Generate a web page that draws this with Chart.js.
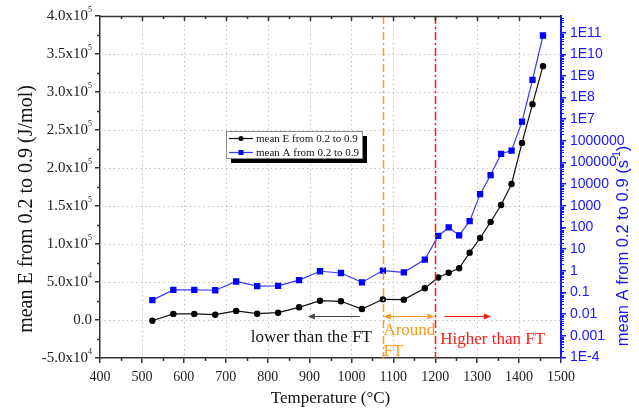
<!DOCTYPE html>
<html>
<head>
<meta charset="utf-8">
<script src="https://cdn.jsdelivr.net/npm/chart.js@4.4.0/dist/chart.umd.min.js"></script>
<style>
  html, body { margin: 0; padding: 0; background: #fff; }
  #wrap { width: 639px; height: 412px; }
</style>
</head>
<body>
<div id="wrap"><canvas id="c" width="639" height="412"></canvas></div>
<script>
// Temperatures (°C) of each measurement
const temperatures = [525, 575, 625, 675, 725, 775, 825, 875, 925, 975, 1025, 1075, 1125, 1175,
                      1207, 1232, 1257, 1282, 1307, 1332, 1357, 1382, 1407, 1432, 1457];
// Mean activation energy E (J/mol), conversion 0.2 - 0.9
const meanE = [-1000, 8000, 8000, 7000, 12000, 8300, 9600, 16700, 25400, 24600, 14500, 27200, 26800, 41700,
               56000, 62200, 68000, 88600, 107900, 129000, 151300, 179000, 233000, 284000, 334000];
// Mean pre-exponential factor A (1/s), conversion 0.2 - 0.9
const meanA = [0.044, 0.13, 0.13, 0.126, 0.32, 0.195, 0.2, 0.37, 0.95, 0.79, 0.29, 1.02, 0.85, 3.3,
               40.7, 100, 43.6, 195, 3470, 26300, 251000, 355000, 7.8e6, 6.6e8, 7.4e10];

const seriesLabels = ['mean E from 0.2 to 0.9', 'mean A from 0.2 to 0.9'];
const xTicks = [400, 500, 600, 700, 800, 900, 1000, 1100, 1200, 1300, 1400, 1500];
const eTicks = [-50000, 0, 50000, 100000, 150000, 200000, 250000, 300000, 350000, 400000];
const aTickExponents = [-4, -3, -2, -1, 0, 1, 2, 3, 4, 5, 6, 7, 8, 9, 10, 11];

// Formation-temperature (FT) region boundaries
const ftStart = 1075;
const ftEnd = 1200;

const SERIF = '"Liberation Serif", "Times New Roman", serif';
const SANS = '"Liberation Sans", Arial, sans-serif';
const BLUE = '#1515ff';
const ORANGE = '#ff9a1a';
const RED = '#ff1a1a';
const AXIS = '#333';

// Split a value into "m.mx10" and its exponent for scientific labels
function sciParts(v) {
  if (v === 0) return ['0.0', ''];
  const e = Math.floor(Math.log10(Math.abs(v)) + 1e-9);
  const m = v / Math.pow(10, e);
  return [m.toFixed(1) + 'x10', String(e)];
}
function logLabel(v) {
  const e = Math.round(Math.log10(v));
  if (e >= 0 && e <= 6) return String(Math.pow(10, e));
  if (e < 0 && e >= -3) return (Math.pow(10, e)).toFixed(-e);
  return '1E' + e;
}

function arrowHead(ctx, x, y, dir, color) {
  ctx.fillStyle = color;
  ctx.beginPath();
  ctx.moveTo(x, y);
  ctx.lineTo(x - dir * 7, y - 3);
  ctx.lineTo(x - dir * 7, y + 3);
  ctx.closePath();
  ctx.fill();
}

const decor = {
  id: 'decor',
  beforeDatasetsDraw(chart) {
    const { ctx, chartArea: a, scales: { x, y } } = chart;
    ctx.save();
    ctx.strokeStyle = '#c4c4c4';
    ctx.lineWidth = 1;
    ctx.setLineDash([1.5, 3]);
    xTicks.forEach(v => {
      if (v <= x.min || v >= x.max) return;
      const px = Math.round(x.getPixelForValue(v)) + 0.5;
      ctx.beginPath(); ctx.moveTo(px, a.top); ctx.lineTo(px, a.bottom); ctx.stroke();
    });
    eTicks.forEach(v => {
      if (v <= y.min || v >= y.max) return;
      const py = Math.round(y.getPixelForValue(v)) + 0.5;
      ctx.beginPath(); ctx.moveTo(a.left, py); ctx.lineTo(a.right, py); ctx.stroke();
    });
    ctx.restore();
  },
  afterDatasetsDraw(chart) {
    const { ctx, chartArea: a, scales: { x, y, y2 } } = chart;
    ctx.save();

    // FT boundary lines (dash-dot)
    ctx.lineWidth = 1.5;
    ctx.setLineDash([8, 3, 2, 3]);
    [[ftStart, ORANGE], [ftEnd, RED]].forEach(([t, col]) => {
      const px = Math.round(x.getPixelForValue(t)) + 0.5;
      ctx.strokeStyle = col;
      ctx.beginPath(); ctx.moveTo(px, a.top); ctx.lineTo(px, a.bottom); ctx.stroke();
    });
    ctx.setLineDash([]);

    // Region arrows
    const ay = Math.round(y.getPixelForValue(5200)) + 0.5;
    ctx.lineWidth = 1;
    let x0 = x.getPixelForValue(896), x1 = x.getPixelForValue(1020);
    ctx.strokeStyle = '#444';
    ctx.beginPath(); ctx.moveTo(x0 + 5, ay); ctx.lineTo(x1, ay); ctx.stroke();
    arrowHead(ctx, x0, ay, -1, '#444');
    x0 = x.getPixelForValue(ftStart) + 1; x1 = x.getPixelForValue(ftEnd) - 1;
    ctx.strokeStyle = ORANGE;
    ctx.beginPath(); ctx.moveTo(x0 + 5, ay); ctx.lineTo(x1 - 5, ay); ctx.stroke();
    arrowHead(ctx, x0, ay, -1, ORANGE);
    arrowHead(ctx, x1, ay, 1, ORANGE);
    x0 = x.getPixelForValue(1222); x1 = x.getPixelForValue(1333);
    ctx.strokeStyle = RED;
    ctx.beginPath(); ctx.moveTo(x0, ay); ctx.lineTo(x1 - 5, ay); ctx.stroke();
    arrowHead(ctx, x1, ay, 1, RED);

    // Region labels
    ctx.font = '17px ' + SERIF;
    ctx.textBaseline = 'middle';
    ctx.fillStyle = '#111';
    ctx.textAlign = 'right';
    ctx.fillText('lower than the FT', x.getPixelForValue(1049), y.getPixelForValue(-23700));
    ctx.textAlign = 'left';
    ctx.fillStyle = ORANGE;
    ctx.fillText('Around', x.getPixelForValue(ftStart) + 0.5, y.getPixelForValue(-14500));
    ctx.fillText('FT', x.getPixelForValue(ftStart) + 0.5, y.getPixelForValue(-41000));
    ctx.fillStyle = RED;
    ctx.fillText('Higher than FT', x.getPixelForValue(ftEnd) + 5, y.getPixelForValue(-26300));

    // Top frame with inward ticks, bottom minor ticks
    ctx.strokeStyle = AXIS;
    ctx.lineWidth = 1.5;
    ctx.beginPath(); ctx.moveTo(a.left, a.top + 0.5); ctx.lineTo(a.right, a.top + 0.5); ctx.stroke();
    for (let t = x.min; t <= x.max; t += 50) {
      const px = Math.round(x.getPixelForValue(t)) + 0.5;
      const major = t % 100 === 0;
      if (t === x.min || t === x.max) continue;
      ctx.beginPath(); ctx.moveTo(px, a.top); ctx.lineTo(px, a.top + (major ? 5 : 3)); ctx.stroke();
      if (!major) {
        ctx.beginPath(); ctx.moveTo(px, a.bottom); ctx.lineTo(px, a.bottom + 3); ctx.stroke();
      }
    }
    // Left minor ticks
    for (let v = y.min + 25000; v < y.max; v += 50000) {
      const py = Math.round(y.getPixelForValue(v)) + 0.5;
      ctx.beginPath(); ctx.moveTo(a.left - 3, py); ctx.lineTo(a.left, py); ctx.stroke();
    }
    // Left tick labels in scientific notation with raised exponent
    ctx.fillStyle = '#222';
    ctx.textBaseline = 'middle';
    ctx.textAlign = 'left';
    eTicks.forEach(v => {
      const py = y.getPixelForValue(v);
      const [base, exp] = sciParts(v);
      ctx.font = '15px ' + SERIF;
      const wb = ctx.measureText(base).width;
      ctx.font = '8px ' + SERIF;
      const we = exp ? ctx.measureText(exp).width : 0;
      const right = a.left - 8;
      ctx.font = '15px ' + SERIF;
      ctx.fillText(base, right - we - wb, py + 0.5);
      if (exp) {
        ctx.font = '8px ' + SERIF;
        ctx.fillText(exp, right - we, py - 6);
      }
    });
    // Right log minor ticks
    ctx.strokeStyle = BLUE;
    ctx.lineWidth = 1;
    for (let e = -5; e <= 11; e++) {
      for (let k = 2; k <= 9; k++) {
        const v = k * Math.pow(10, e);
        if (v <= y2.min || v >= y2.max) continue;
        const py = Math.round(y2.getPixelForValue(v)) + 0.5;
        ctx.beginPath(); ctx.moveTo(a.right, py); ctx.lineTo(a.right + 3, py); ctx.stroke();
      }
    }

    // Legend with drop shadow
    const lx = 226, ly = 131, lw = 136, lh = 27;
    ctx.fillStyle = '#000';
    ctx.fillRect(lx + 5, ly + 5, lw, lh);
    ctx.fillStyle = '#fff';
    ctx.fillRect(lx, ly, lw, lh);
    ctx.strokeStyle = '#8a8a8a';
    ctx.lineWidth = 1;
    ctx.strokeRect(lx + 0.5, ly + 0.5, lw, lh);
    ctx.font = '11px ' + SERIF;
    ctx.textAlign = 'left';
    ctx.textBaseline = 'middle';
    chart.data.datasets.forEach((ds, i) => {
      const ry = ly + 7.5 + i * 14;
      ctx.strokeStyle = ds.borderColor;
      ctx.lineWidth = 1.2;
      ctx.beginPath(); ctx.moveTo(lx + 3, ry); ctx.lineTo(lx + 27, ry); ctx.stroke();
      ctx.fillStyle = ds.pointBackgroundColor;
      if (ds.pointStyle === 'rect') ctx.fillRect(lx + 12.5, ry - 2.5, 5, 5);
      else { ctx.beginPath(); ctx.arc(lx + 15, ry, 2.5, 0, Math.PI * 2); ctx.fill(); }
      ctx.fillStyle = '#111';
      ctx.fillText(ds.label, lx + 30, ry + 0.5);
    });

    // Axis titles
    ctx.fillStyle = '#111';
    ctx.font = '17px ' + SERIF;
    ctx.textAlign = 'center';
    ctx.textBaseline = 'middle';
    ctx.fillText('Temperature (°C)', (a.left + a.right) / 2, 399);

    ctx.save();
    ctx.translate(27, 209);
    ctx.rotate(-Math.PI / 2);
    ctx.font = '20px ' + SERIF;
    ctx.fillText('mean E from 0.2 to 0.9 (J/mol)', 0, 0);
    ctx.restore();

    ctx.save();
    ctx.translate(623, 246);
    ctx.rotate(-Math.PI / 2);
    ctx.fillStyle = BLUE;
    const bigFont = '16.5px ' + SANS, smallFont = '10px ' + SANS;
    ctx.font = bigFont;
    const main = 'mean A from 0.2 to 0.9 (s';
    const supT = '-1';
    const tail = ')';
    const wMain = ctx.measureText(main).width;
    const wTail = ctx.measureText(tail).width;
    ctx.font = smallFont;
    const wSup = ctx.measureText(supT).width;
    let sx = -(wMain + wSup + wTail) / 2;
    ctx.textAlign = 'left';
    ctx.font = bigFont;
    ctx.fillText(main, sx, 0);
    sx += wMain;
    ctx.font = smallFont;
    ctx.fillText(supT, sx, -6);
    sx += wSup;
    ctx.font = bigFont;
    ctx.fillText(tail, sx, 0);
    ctx.restore();

    ctx.restore();
  }
};

const toPoints = vals => temperatures.map((t, i) => ({ x: t, y: vals[i] }));

new Chart(document.getElementById('c'), {
  type: 'line',
  data: {
    datasets: [
      {
        label: seriesLabels[0],
        data: toPoints(meanE),
        yAxisID: 'y',
        borderColor: '#111',
        backgroundColor: '#111',
        pointBackgroundColor: '#000',
        pointBorderColor: '#000',
        pointStyle: 'circle',
        pointRadius: 2.6,
        borderWidth: 1.2,
        tension: 0
      },
      {
        label: seriesLabels[1],
        data: toPoints(meanA),
        yAxisID: 'y2',
        borderColor: '#3a3aff',
        backgroundColor: '#0000ff',
        pointBackgroundColor: '#0000ff',
        pointBorderColor: '#0000ff',
        pointStyle: 'rect',
        pointRadius: 3.6,
        borderWidth: 1.2,
        tension: 0
      }
    ]
  },
  options: {
    responsive: false,
    animation: false,
    devicePixelRatio: 1,
    layout: { padding: { top: 16, left: 0, right: 0, bottom: 0 } },
    plugins: { legend: { display: false }, tooltip: { enabled: false } },
    scales: {
      x: {
        type: 'linear',
        min: 400,
        max: 1500,
        afterBuildTicks: s => { s.ticks = xTicks.map(v => ({ value: v })); },
        afterFit: s => { s.height = 54; },
        grid: { drawOnChartArea: false, drawTicks: true, tickLength: 5, color: AXIS, lineWidth: 1.5 },
        border: { display: true, color: AXIS, width: 1.5 },
        ticks: { font: { family: SERIF, size: 14 }, color: '#222', padding: 6, maxRotation: 0, autoSkip: false,
                 callback: v => String(v) }
      },
      y: {
        type: 'linear',
        position: 'left',
        min: -50000,
        max: 400000,
        afterBuildTicks: s => { s.ticks = eTicks.map(v => ({ value: v })); },
        afterFit: s => { s.width = 100; },
        grid: { drawOnChartArea: false, drawTicks: true, tickLength: 5, color: AXIS, lineWidth: 1.5 },
        border: { display: true, color: AXIS, width: 1.5 },
        ticks: { display: false }
      },
      y2: {
        type: 'logarithmic',
        position: 'right',
        min: Math.pow(10, -4.03),
        max: Math.pow(10, 11.77),
        afterBuildTicks: s => { s.ticks = aTickExponents.map(e => ({ value: Math.pow(10, e) })); },
        afterFit: s => { s.width = 78; },
        grid: { drawOnChartArea: false, drawTicks: true, tickLength: 5, color: BLUE, lineWidth: 1.5 },
        border: { display: true, color: BLUE, width: 2 },
        ticks: { font: { family: SANS, size: 14 }, color: BLUE, padding: 4, autoSkip: false, callback: v => logLabel(v) }
      }
    }
  },
  plugins: [decor]
});
</script>
</body>
</html>
